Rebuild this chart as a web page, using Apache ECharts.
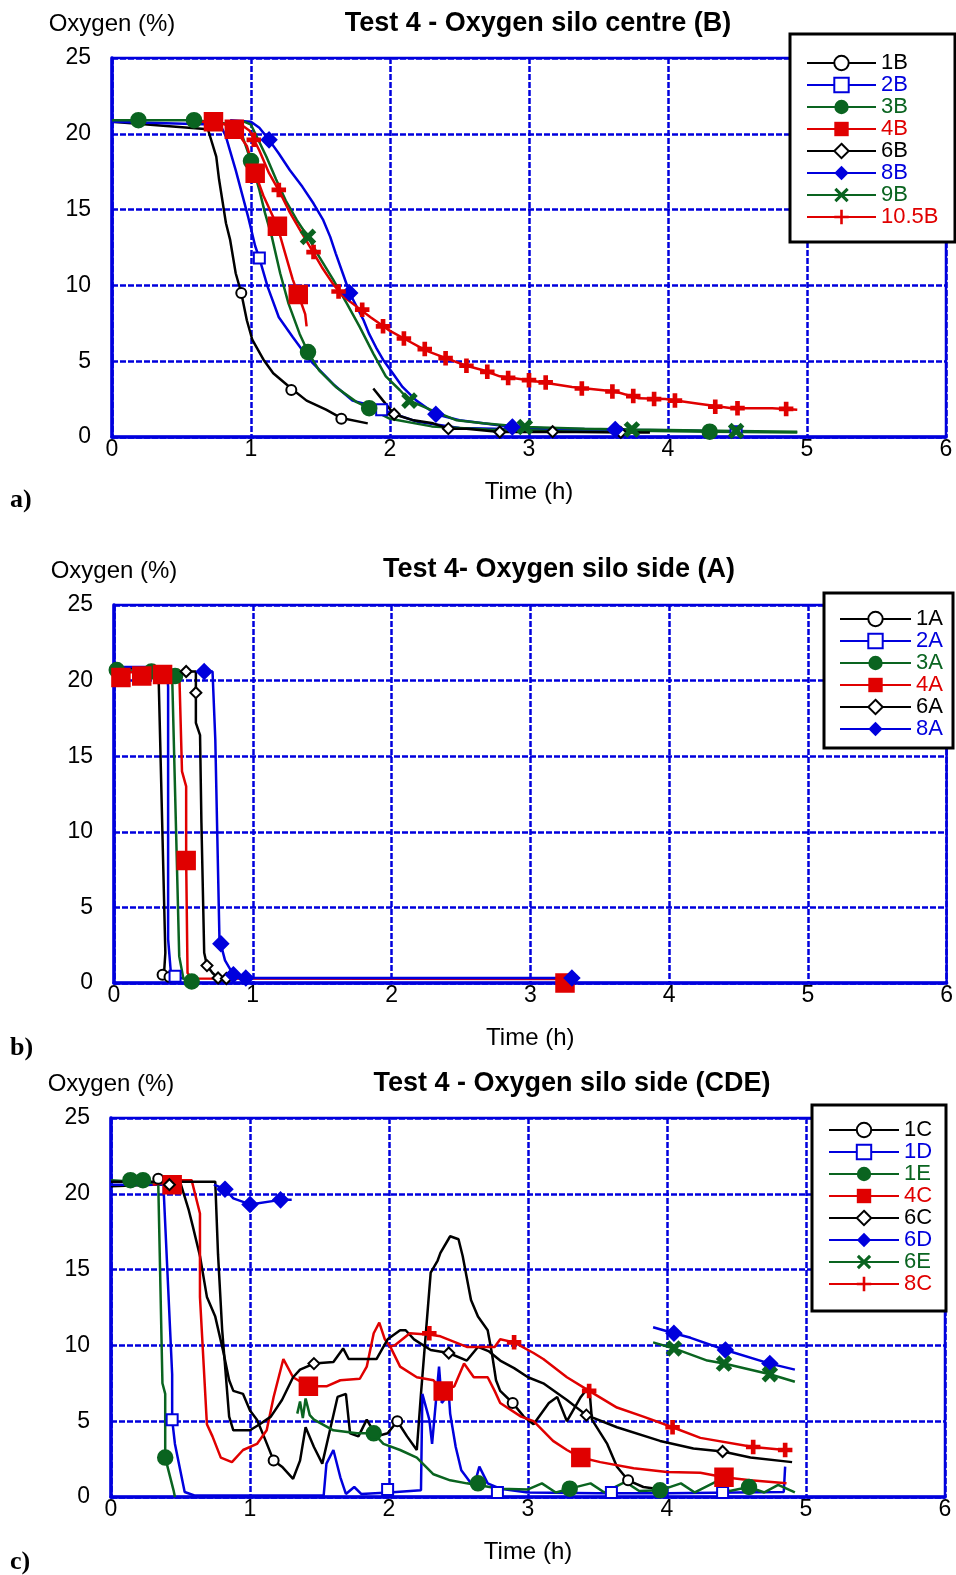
<!DOCTYPE html>
<html>
<head>
<meta charset="utf-8">
<script src="https://cdn.jsdelivr.net/npm/echarts@6/dist/echarts.min.js"></script>
<style>
  html, body { margin: 0; padding: 0; background: #fff; }
  #main { width: 956px; height: 1575px; }
</style>
</head>
<body>
<div id="main"></div>
<script>
// axis ticks
const xTicks = [0, 1, 2, 3, 4, 5, 6];
const yTicks = [0, 5, 10, 15, 20, 25];

// ---- a) silo centre (B) : [time h, oxygen %] ----
const s1B = [[0,20.8],[0.69,20.3],[0.75,18.5],[0.77,17],[0.82,14.1],[0.85,13],[0.89,10.8],[0.93,9.5],[0.97,7.7],[1.01,6.4],[1.09,5.1],[1.16,4.2],[1.29,3.2],[1.4,2.4],[1.54,1.8],[1.65,1.25],[1.84,0.9]];
const m1B = [[0.93,9.5],[1.29,3.1],[1.65,1.2]];
const s2B = [[0,20.8],[0.78,20.6],[0.82,19.8],[0.89,17.6],[0.98,14.5],[1.03,12.6],[1.06,11.8],[1.12,9.9],[1.2,7.9],[1.3,6.6],[1.42,5.1],[1.59,3.5],[1.73,2.4],[1.9,2.0],[1.94,1.8],[2.2,1.0],[2.5,0.6],[3.0,0.5],[4.0,0.45],[4.5,0.35]];
const m2B = [[1.06,11.8],[1.94,1.8],[4.49,0.35]];
const s3B = [[0,20.9],[0.6,20.9],[0.9,20.6],[0.94,19.8],[1.0,18.2],[1.06,16.3],[1.1,14.8],[1.15,13.2],[1.21,10.8],[1.27,8.8],[1.35,6.8],[1.41,5.6],[1.49,4.4],[1.61,3.3],[1.76,2.3],[1.85,1.9],[2.0,1.2],[2.3,0.7],[2.7,0.5],[3.5,0.45],[4.3,0.35],[4.93,0.3]];
const m3B = [[0.19,20.9],[0.59,20.9],[1.0,18.2],[1.41,5.6],[1.85,1.9],[4.3,0.35]];
const s4B = [[0.6,20.8],[0.75,20.8],[0.88,20.4],[0.97,19.2],[1.03,17.4],[1.09,15.9],[1.19,13.9],[1.24,12.3],[1.3,10.4],[1.34,9.4],[1.39,8.1],[1.4,7.3]];
const m4B = [[0.73,20.8],[0.88,20.3],[1.03,17.4],[1.19,13.9],[1.34,9.4]];
const s6B = [[1.88,3.2],[1.95,2.4],[2.03,1.5],[2.17,1.1],[2.31,0.9],[2.42,0.55],[2.55,0.55],[2.79,0.33],[3.17,0.35],[3.69,0.3],[3.87,0.3]];
const m6B = [[2.03,1.5],[2.42,0.55],[2.79,0.33],[3.17,0.35],[3.66,0.3]];
const s8B = [[0.85,20.9],[1.0,20.8],[1.06,20.4],[1.13,19.6],[1.2,18.7],[1.28,17.6],[1.37,16.5],[1.45,15.4],[1.52,14.3],[1.57,13.2],[1.61,12.1],[1.66,10.8],[1.71,9.5],[1.76,8.6],[1.81,7.7],[1.85,6.8],[1.9,5.9],[1.95,5.1],[2.02,4.2],[2.09,3.3],[2.19,2.4],[2.33,1.5],[2.5,1.1],[2.67,0.9],[2.88,0.66],[3.2,0.55],[3.62,0.5],[3.7,0.5]];
const m8B = [[1.13,19.6],[1.71,9.5],[2.33,1.5],[2.88,0.66],[3.62,0.5]];
const s9B = [[0.95,20.8],[1.0,20.6],[1.11,18.5],[1.18,17],[1.25,15.6],[1.33,14.3],[1.41,13.2],[1.49,11.9],[1.59,10.4],[1.69,8.8],[1.78,7.3],[1.88,5.5],[1.97,4.0],[2.07,3.1],[2.14,2.4],[2.29,1.8],[2.48,1.1],[2.67,0.9],[2.97,0.66],[3.4,0.55],[3.74,0.5],[4.49,0.4],[4.93,0.35]];
const m9B = [[1.41,13.2],[2.14,2.4],[2.97,0.66],[3.74,0.5],[4.49,0.4]];
const s10B = [[0.9,20.8],[0.99,20.2],[1.06,18.9],[1.13,17.4],[1.21,16.1],[1.28,14.8],[1.35,13.7],[1.42,12.6],[1.51,11.2],[1.59,10.1],[1.66,9.3],[1.76,8.6],[1.86,7.9],[2.0,7.0],[2.12,6.4],[2.26,5.7],[2.43,5.1],[2.55,4.7],[2.67,4.4],[2.79,4.0],[3.0,3.75],[3.31,3.3],[3.62,3.0],[3.79,2.55],[3.98,2.5],[4.22,2.2],[4.46,1.9],[4.75,1.9],[4.93,1.8]];
const m10B = [[1.02,19.6],[1.2,16.3],[1.45,12.2],[1.63,9.6],[1.8,8.4],[1.95,7.3],[2.1,6.5],[2.25,5.8],[2.4,5.2],[2.55,4.7],[2.7,4.3],[2.85,3.9],[3.0,3.75],[3.12,3.6],[3.38,3.2],[3.6,3.0],[3.75,2.7],[3.9,2.5],[4.05,2.4],[4.34,2.0],[4.5,1.9],[4.85,1.85]];

// ---- b) silo side (A) ----
const s1A = [[0,20.8],[0.32,20.8],[0.37,2.0],[0.36,0.55],[0.45,0.3]];
const m1A = [[0.35,0.55],[0.4,0.4]];
const s2A = [[0,20.9],[0.38,20.9],[0.39,19.6],[0.39,2.9],[0.41,0.66],[0.44,0.44],[0.5,0.3]];
const m2A = [[0.44,0.44]];
const s3A = [[0,20.7],[0.41,20.4],[0.42,20.0],[0.47,1.76],[0.5,0.3],[0.56,0.1]];
const m3A = [[0.02,20.7],[0.27,20.6],[0.44,20.3],[0.56,0.1]];
const s4A = [[0,20.5],[0.47,20.7],[0.49,14.0],[0.52,13.0],[0.52,8.1],[0.53,0.66],[0.56,0.3],[3.25,0.26]];
const m4A = [[0.05,20.2],[0.2,20.3],[0.35,20.4],[0.52,8.1],[3.25,0.0]];
const s6A = [[0.45,20.6],[0.59,20.6],[0.59,19.2],[0.59,17.2],[0.62,16.4],[0.63,10.6],[0.65,2.0],[0.67,1.15],[0.71,0.66],[0.75,0.33],[0.81,0.33]];
const m6A = [[0.52,20.6],[0.59,19.2],[0.67,1.15],[0.75,0.33],[0.81,0.3]];
const s8A = [[0.6,20.6],[0.71,20.6],[0.73,16.1],[0.74,16.0],[0.76,2.9],[0.8,1.5],[0.86,0.55],[0.95,0.33],[3.3,0.33]];
const m8A = [[0.65,20.6],[0.77,2.6],[0.86,0.55],[0.95,0.33],[3.3,0.33]];

// ---- c) silo side (CDE) ----
const s1C = [[0,20.5],[0.3,20.6],[0.5,20.7],[0.56,18.9],[0.59,17.8],[0.64,15.9],[0.69,13.2],[0.75,11.9],[0.81,9.5],[0.85,7.7],[0.88,7.0],[0.95,6.8],[1.0,5.7],[1.05,5.1],[1.1,4.0],[1.17,2.4],[1.23,2.0],[1.31,1.2],[1.36,2.4],[1.4,4.6],[1.46,3.3],[1.52,2.2],[1.58,4.6],[1.63,6.6],[1.69,6.8],[1.72,4.2],[1.78,4.0],[1.84,5.1],[1.91,4.0],[1.99,4.2],[2.06,5.0],[2.13,4.0],[2.2,3.1],[2.23,6.8],[2.3,14.8],[2.35,15.6],[2.37,16.1],[2.44,17.2],[2.5,17.0],[2.53,15.9],[2.59,13.0],[2.64,11.9],[2.71,11.0],[2.74,9.5],[2.77,7.7],[2.8,7.0],[2.89,6.2],[2.97,5.3],[3.04,4.8],[3.15,6.2],[3.21,6.6],[3.28,5.0],[3.38,6.6],[3.44,7.3],[3.46,5.1],[3.57,3.5],[3.64,2.0],[3.72,1.1],[3.83,0.66],[4.0,0.44]];
const m1C = [[0.34,21.0],[1.17,2.4],[2.06,5.0],[2.89,6.2],[3.72,1.1]];
const s1D = [[0,20.6],[0.38,20.6],[0.38,20.0],[0.44,8.1],[0.44,5.1],[0.46,3.5],[0.53,0.33],[0.6,0.1],[1.53,0.1],[1.55,2.2],[1.6,3.1],[1.65,1.3],[1.69,0.2],[1.75,0.66],[1.8,0.2],[2.0,0.3],[2.23,0.44],[2.24,6.8],[2.29,5.1],[2.31,3.5],[2.36,8.6],[2.38,6.2],[2.43,6.8],[2.44,5.5],[2.48,3.3],[2.52,1.76],[2.61,0.66],[2.65,2.0],[2.71,0.9],[2.8,0.55],[3.0,0.3],[3.5,0.25],[4.0,0.25],[4.5,0.3],[4.84,0.33],[4.85,2.0]];
const m1D = [[0.44,5.1],[1.99,0.5],[2.78,0.3],[3.6,0.3],[4.4,0.3]];
const s1E = [[0,20.9],[0.34,20.7],[0.37,7.5],[0.39,6.8],[0.39,2.6],[0.45,0.44],[0.46,0],[0.9,null],[1.34,5.5],[1.36,6.3],[1.38,5.2],[1.4,6.5],[1.43,5.4],[1.46,5.1],[1.6,4.4],[1.77,4.2],[1.89,4.2],[1.96,3.5],[2.08,3.1],[2.2,2.6],[2.32,1.5],[2.44,1.1],[2.56,0.9],[2.8,0.55],[3.0,0.5],[3.1,0.9],[3.2,0.3],[3.3,0.55],[3.45,0.9],[3.55,0.3],[3.7,1.0],[3.8,0.4],[3.95,0.44],[4.1,0.9],[4.2,0.3],[4.35,1.0],[4.45,0.4],[4.59,0.66],[4.7,0.3],[4.8,0.8],[4.92,0.3]];
const m1E = [[0.14,20.9],[0.23,20.9],[0.39,2.6],[1.89,4.2],[2.64,0.9],[3.3,0.55],[3.95,0.44],[4.59,0.66]];
const s4C = [[0.3,20.6],[0.5,20.9],[0.58,20.9],[0.64,18.7],[0.64,13.2],[0.69,4.8],[0.73,4.0],[0.79,2.6],[0.87,2.3],[0.95,3.1],[1.05,3.5],[1.12,4.4],[1.17,6.6],[1.24,9.1],[1.31,7.9],[1.42,7.3],[1.55,7.3],[1.65,7.7],[1.79,7.8],[1.84,8.6],[1.89,10.8],[1.93,11.5],[1.97,10.4],[2.01,9.9],[2.08,8.6],[2.2,7.9],[2.32,7.7],[2.39,7.0],[2.47,7.3],[2.54,8.8],[2.61,7.9],[2.71,7.9],[2.76,7.0],[2.8,6.2],[2.95,5.3],[3.04,5.0],[3.18,3.7],[3.28,3.1],[3.38,2.6],[3.52,2.3],[3.76,1.9],[4.0,1.65],[4.24,1.6],[4.41,1.3],[4.6,1.1],[4.86,0.9]];
const m4C = [[0.44,20.6],[1.42,7.3],[2.39,7.0],[3.38,2.6],[4.41,1.3]];
const s6C = [[0,20.8],[0.75,20.8],[0.77,16.0],[0.8,11.0],[0.85,5.3],[0.88,4.4],[1.0,4.4],[1.07,4.8],[1.15,5.3],[1.23,6.4],[1.31,7.9],[1.36,8.4],[1.46,8.8],[1.6,8.9],[1.67,9.8],[1.71,9.1],[1.91,9.1],[1.99,10.4],[2.08,11.0],[2.12,11.0],[2.18,10.4],[2.3,9.7],[2.43,9.5],[2.56,9.0],[2.64,9.9],[2.72,9.6],[2.8,9.0],[2.9,8.5],[3.0,7.9],[3.11,7.5],[3.28,6.4],[3.42,5.4],[3.64,4.6],[3.95,3.7],[4.19,3.2],[4.4,3.0],[4.6,2.6],[4.9,2.3]];
const m6C = [[0.42,20.6],[1.46,8.8],[2.43,9.5],[3.42,5.4],[4.4,3.0]];
const s6D = [[0.74,20.6],[0.82,20.3],[0.88,19.7],[1.0,19.3],[1.22,19.6],[1.3,19.6],[2.5,null],[3.9,11.2],[4.05,10.8],[4.17,10.5],[4.42,9.7],[4.74,8.8],[4.92,8.4]];
const m6D = [[0.82,20.3],[1.0,19.3],[1.22,19.6],[4.05,10.8],[4.42,9.7],[4.74,8.8]];
const s6E = [[3.9,10.2],[4.05,9.8],[4.29,9.0],[4.41,8.8],[4.74,8.1],[4.92,7.6]];
const m6E = [[4.05,9.8],[4.41,8.8],[4.74,8.1]];
const s8C = [[2.0,9.9],[2.04,10.0],[2.15,10.8],[2.3,10.7],[2.37,10.6],[2.56,9.9],[2.76,9.9],[2.8,10.4],[2.9,10.2],[3.04,9.5],[3.11,9.1],[3.28,7.9],[3.44,7.0],[3.64,5.9],[3.83,5.3],[4.04,4.6],[4.24,3.9],[4.62,3.3],[4.85,3.1]];
const m8C = [[2.29,10.8],[2.9,10.2],[3.44,7.0],[4.04,4.6],[4.62,3.3],[4.85,3.1]];

const BLACK = '#000000', BLUE = '#0000dd', GREEN = '#0a6420', RED = '#e00000';
const AXIS_BLUE = '#0000dd';
const FONT = 'Liberation Sans, Arial, sans-serif';

const CROSS = 'path://M0,1.5 L1.5,0 L5,3.5 L8.5,0 L10,1.5 L6.5,5 L10,8.5 L8.5,10 L5,6.5 L1.5,10 L0,8.5 L3.5,5 Z';
const PLUS = 'path://M4.1,0 H5.9 V4.1 H10 V5.9 H5.9 V10 H4.1 V5.9 H0 V4.1 H4.1 Z';

// marker looks, by probe position
const looks = {
  o:  { symbol: 'emptyCircle', size: 10 },
  sq: { symbol: 'emptyRect', size: 11 },
  dot:{ symbol: 'circle', size: 14 },
  big:{ symbol: 'rect', size: 17 },
  dm: { symbol: 'emptyDiamond', size: 11 },
  fd: { symbol: 'diamond', size: 14 },
  x:  { symbol: CROSS, size: 13 },
  p:  { symbol: PLUS, size: 12 }
};

const panels = [
  { names: ['1B','2B','3B','4B','6B','8B','9B','10.5B'],
    lines: [s1B,s2B,s3B,s4B,s6B,s8B,s9B,s10B],
    marks: [m1B,m2B,m3B,m4B,m6B,m8B,m9B,m10B],
    colors: [BLACK,BLUE,GREEN,RED,BLACK,BLUE,GREEN,RED],
    kinds: ['o','sq','dot','big','dm','fd','x','p'],
    grid: { left: 112, top: 58, width: 834, height: 379 },
    legend: { left: 806, top: 52, itemWidth: 69 },
    box: [790, 34, 165, 208],
    title: 'Test 4 - Oxygen silo centre (B)', titleX: 538, titleY: 24,
    tag: 'a)', tagY: 500 },
  { names: ['1A','2A','3A','4A','6A','8A'],
    lines: [s1A,s2A,s3A,s4A,s6A,s8A],
    marks: [m1A,m2A,m3A,m4A,m6A,m8A],
    colors: [BLACK,BLUE,GREEN,RED,BLACK,BLUE],
    kinds: ['o','sq','dot','big','dm','fd'],
    grid: { left: 114, top: 605, width: 834, height: 378 },
    legend: { left: 839, top: 608, itemWidth: 71 },
    box: [824, 593, 129, 155],
    title: 'Test 4- Oxygen silo side (A)', titleX: 559, titleY: 570,
    tag: 'b)', tagY: 1048 },
  { names: ['1C','1D','1E','4C','6C','6D','6E','8C'],
    lines: [s1C,s1D,s1E,s4C,s6C,s6D,s6E,s8C],
    marks: [m1C,m1D,m1E,m4C,m6C,m6D,m6E,m8C],
    colors: [BLACK,BLUE,GREEN,RED,BLACK,BLUE,GREEN,RED],
    kinds: ['o','sq','dot','big','dm','fd','x','p'],
    grid: { left: 111, top: 1118, width: 834, height: 379 },
    legend: { left: 828, top: 1119, itemWidth: 70 },
    box: [812, 1105, 134, 206],
    title: 'Test 4 - Oxygen silo side (CDE)', titleX: 572, titleY: 1084,
    tag: 'c)', tagY: 1562 }
];

const grids = [], xAxes = [], yAxes = [], series = [], legends = [], graphics = [];

panels.forEach(function (p, gi) {
  grids.push(Object.assign({ show: true, borderColor: AXIS_BLUE, borderWidth: 2.5, backgroundColor: 'transparent' }, p.grid));
  xAxes.push({
    type: 'value', gridIndex: gi, min: xTicks[0], max: xTicks[xTicks.length - 1], interval: 1,
    name: 'Time (h)', nameLocation: 'middle', nameGap: 43,
    nameTextStyle: { fontSize: 24, fontFamily: FONT, color: '#000' },
    axisLine: { lineStyle: { color: AXIS_BLUE, width: 3.5 } },
    axisTick: { show: false },
    axisLabel: { fontSize: 23, fontFamily: FONT, color: '#000', margin: 1 },
    splitLine: { show: true, lineStyle: { color: AXIS_BLUE, width: 2.5, type: [6, 2] } }
  });
  yAxes.push({
    type: 'value', gridIndex: gi, min: yTicks[0], max: yTicks[yTicks.length - 1], interval: 5,
    name: 'Oxygen (%)', nameLocation: 'end', nameGap: 34,
    nameTextStyle: { fontSize: 24, fontFamily: FONT, color: '#000', align: 'center', verticalAlign: 'middle' },
    axisLine: { lineStyle: { color: AXIS_BLUE, width: 3.5 } },
    axisTick: { show: false },
    axisLabel: { fontSize: 23, fontFamily: FONT, color: '#000', margin: 21 },
    splitLine: { show: true, lineStyle: { color: AXIS_BLUE, width: 2.5, type: [6, 2] } }
  });

  p.names.forEach(function (name, i) {
    const look = looks[p.kinds[i]];
    const col = p.colors[i];
    series.push({
      type: 'line', name: name, xAxisIndex: gi, yAxisIndex: gi,
      data: p.lines[i], showSymbol: false, symbol: look.symbol, symbolSize: look.size,
      lineStyle: { color: col, width: 2.5 }, itemStyle: { color: col, borderColor: col },
      emphasis: { disabled: true }, animation: false, z: 3
    });
    series.push({
      type: 'scatter', name: name, xAxisIndex: gi, yAxisIndex: gi,
      data: p.marks[i], symbol: look.symbol, symbolSize: look.size,
      itemStyle: { color: col, borderColor: col, borderWidth: 2.5, opacity: 1 },
      emphasis: { disabled: true }, animation: false, z: 4
    });
  });

  legends.push({
    orient: 'vertical', left: p.legend.left, top: p.legend.top,
    itemWidth: p.legend.itemWidth, itemHeight: 18, itemGap: 0, itemTextGap: 3,
    padding: 0, z: 20, selectedMode: false,
    textStyle: { fontSize: 22, fontFamily: FONT, lineHeight: 22 },
    data: p.names.map(function (n, i) { return { name: n, textStyle: { color: p.colors[i] } }; })
  });

  graphics.push({
    type: 'rect', z: 15,
    shape: { x: p.box[0], y: p.box[1], width: p.box[2], height: p.box[3] },
    style: { fill: '#fff', stroke: '#000', lineWidth: 3 }
  });
  graphics.push({
    type: 'text', x: p.titleX, y: p.titleY, z: 15,
    style: { text: p.title, fill: '#000', font: 'bold 27px ' + FONT, align: 'center', verticalAlign: 'middle' }
  });
  graphics.push({
    type: 'text', x: 10, y: p.tagY, z: 15,
    style: { text: p.tag, fill: '#000', font: 'bold 26px Liberation Serif, Times New Roman, serif', align: 'left', verticalAlign: 'middle' }
  });
});

const chart = echarts.init(document.getElementById('main'), null, { renderer: 'canvas' });
chart.setOption({
  animation: false,
  backgroundColor: '#fff',
  grid: grids,
  xAxis: xAxes,
  yAxis: yAxes,
  legend: legends,
  series: series,
  graphic: graphics
});
</script>
</body>
</html>
